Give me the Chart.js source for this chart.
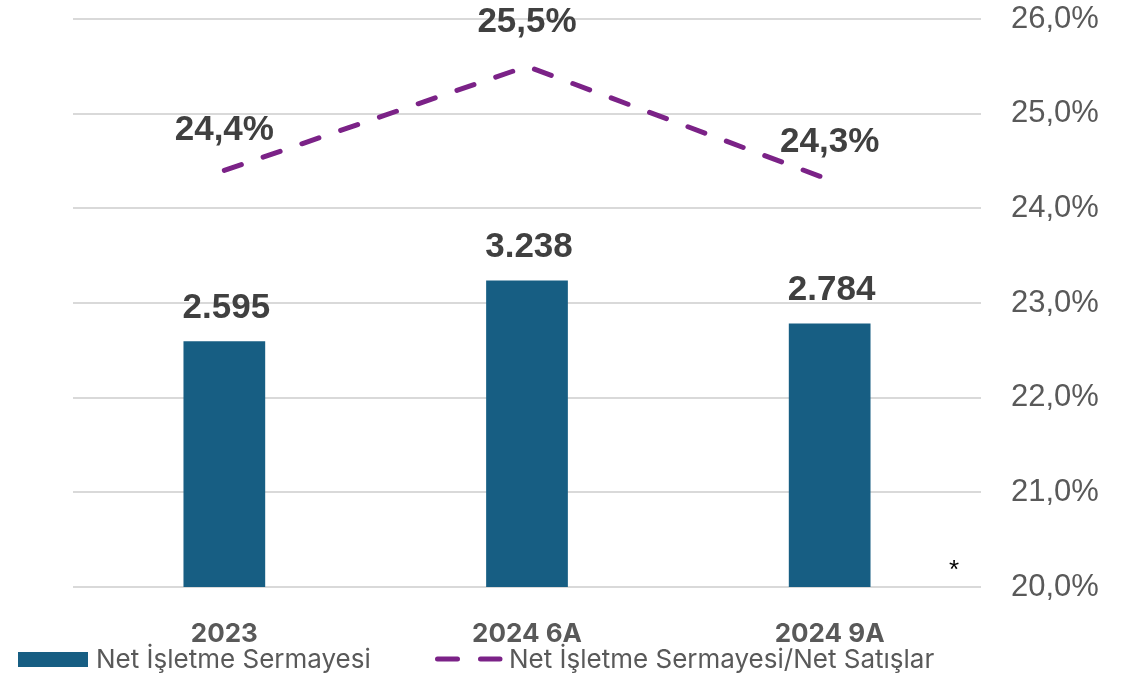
<!DOCTYPE html>
<html>
<head>
<meta charset="utf-8">
<script src="https://cdn.jsdelivr.net/npm/chart.js@4"></script>
<style>
  html, body { margin: 0; padding: 0; background: #fff; }
  canvas { display: block; }
</style>
</head>
<body>
<canvas id="chart" width="1128" height="674"></canvas>
<script>
// data
const categories = ["2023", "2024 6A", "2024 9A"];
const nisValues = [2595, 3238, 2784];
const ratioValues = [24.4, 25.5, 24.3];
const ratioTicks = [20, 21, 22, 23, 24, 25, 26];
const barLabel = "Net İşletme Sermayesi";
const lineLabel = "Net İşletme Sermayesi/Net Satışlar";

const barColor = "#175E83";
const lineColor = "#7B2287";
const textDark = "#404040";
const textGrey = "#595959";

// helpers
const fmtThousands = (v) => String(v).replace(/\B(?=(\d{3})+(?!\d))/g, ".");
const fmtPct = (v) => v.toFixed(1).replace(".", ",") + "%";

// draws value labels, legend and the asterisk
const extrasPlugin = {
  id: "extras",
  afterDatasetsDraw(chart) {
    const ctx = chart.ctx;
    ctx.save();
    ctx.fillStyle = textDark;
    ctx.font = "bold 35px 'Liberation Sans', Arial, sans-serif";
    ctx.textAlign = "center";
    ctx.textBaseline = "middle";
    chart.getDatasetMeta(0).data.forEach((el, i) => {
      ctx.fillText(fmtThousands(nisValues[i]), el.x + 2, el.y - 33);
    });
    // line labels sit a little higher over the peak
    const lineOffsets = [40, 44, 38];
    chart.getDatasetMeta(1).data.forEach((el, i) => {
      ctx.fillText(fmtPct(ratioValues[i]), el.x, el.y - lineOffsets[i]);
    });
    ctx.restore();
  },
  afterDraw(chart) {
    const ctx = chart.ctx;
    ctx.save();
    // legend - bar
    ctx.fillStyle = barColor;
    ctx.fillRect(18, 652, 70, 15);
    ctx.fillStyle = textGrey;
    ctx.font = "26px Inter, 'Liberation Sans', sans-serif";
    ctx.textAlign = "left";
    ctx.textBaseline = "middle";
    ctx.fillText(barLabel, 96, 660);
    // legend - line
    ctx.strokeStyle = lineColor;
    ctx.lineWidth = 5;
    ctx.lineCap = "round";
    ctx.setLineDash([20, 23]);
    ctx.beginPath();
    ctx.moveTo(437.5, 659);
    ctx.lineTo(500, 659);
    ctx.stroke();
    ctx.setLineDash([]);
    ctx.fillText(lineLabel, 509, 660);
    // asterisk
    ctx.fillStyle = "#000";
    ctx.font = "26px 'Liberation Sans', Arial, sans-serif";
    ctx.textAlign = "center";
    ctx.fillText("*", 954, 571);
    ctx.restore();
  },
};

const ctx = document.querySelector("#chart").getContext("2d");
new Chart(ctx, {
  data: {
    labels: categories,
    datasets: [
      {
        type: "bar",
        label: barLabel,
        data: nisValues,
        backgroundColor: barColor,
        yAxisID: "y",
        categoryPercentage: 1,
        barPercentage: 0.27,
        order: 2,
      },
      {
        type: "line",
        label: lineLabel,
        data: ratioValues,
        borderColor: lineColor,
        borderWidth: 5,
        borderDash: [18, 23],
        borderCapStyle: "round",
        pointRadius: 0,
        tension: 0,
        fill: false,
        yAxisID: "y1",
        order: 1,
      },
    ],
  },
  options: {
    responsive: false,
    animation: false,
    layout: { padding: { left: 73, top: 19, right: 0, bottom: 0 } },
    plugins: {
      legend: { display: false },
      tooltip: { enabled: false },
    },
    scales: {
      x: {
        grid: { display: false },
        border: { display: false },
        ticks: {
          color: textGrey,
          padding: 24,
          font: { family: "Inter, 'Liberation Sans', sans-serif", size: 26, weight: "bold" },
        },
        afterFit: (scale) => { scale.height = 87; },
      },
      y: {
        display: false,
        min: 0,
        max: 6000,
      },
      y1: {
        position: "right",
        min: ratioTicks[0],
        max: ratioTicks[ratioTicks.length - 1],
        afterBuildTicks: (scale) => { scale.ticks = ratioTicks.map((v) => ({ value: v })); },
        grid: { color: "#D9D9D9", lineWidth: 2, drawTicks: false },
        border: { display: false },
        ticks: {
          color: textGrey,
          padding: 30,
          font: { family: "'Liberation Sans', Arial, sans-serif", size: 31 },
          callback: (v) => fmtPct(v),
        },
        afterFit: (scale) => {
          scale.width = 147;
          scale.paddingTop = 0;
          scale.paddingBottom = 0;
        },
      },
    },
  },
  plugins: [extrasPlugin],
});
</script>
</body>
</html>
